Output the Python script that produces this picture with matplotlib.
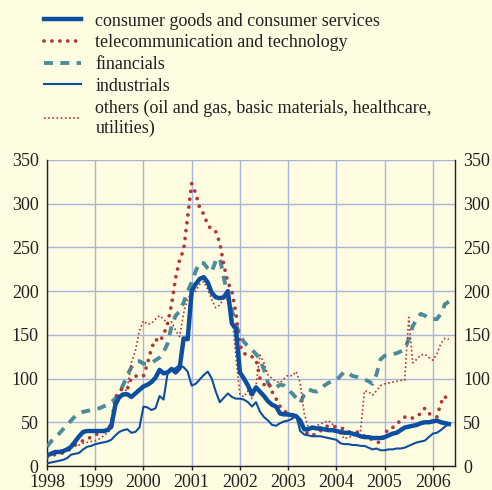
import numpy as np
import matplotlib
matplotlib.use("Agg")
import matplotlib.pyplot as plt

# monthly data, Jan 1998 .. May 2006
start_year = 1998
consumer = [12, 14, 16, 16, 17, 19, 22, 28, 34, 39, 40, 40,
            40, 40, 40, 41, 45, 70, 79, 82, 82, 79, 83, 87,
            91, 93, 96, 101, 110, 106, 107, 111, 107, 112, 146, 145,
            200, 208, 214, 216, 210, 198, 193, 192, 193, 200, 163, 157,
            107, 100, 92, 82, 90, 85, 80, 74, 70, 68, 60, 59,
            59, 58, 57, 52, 42, 42, 44, 43, 43, 42, 41, 41,
            40, 39, 38, 38, 37, 36, 34, 33, 33, 32, 32, 32,
            33, 35, 37, 38, 41, 44, 45, 46, 47, 49, 50, 50,
            51, 52, 50, 49, 48]
telecom = [10, 12, 13, 14, 15, 17, 20, 24, 27, 29, 31, 33,
           36, 37, 39, 42, 48, 78, 86, 89, 88, 101, 103, 102,
           103, 117, 135, 145, 142, 150, 163, 185, 215, 236, 247, 285,
           323, 312, 295, 288, 276, 270, 268, 255, 230, 210, 200, 175,
           138, 129, 126, 125, 122, 100, 93, 96, 85, 77, 68, 63,
           60, 59, 57, 50, 42, 36, 35, 37, 40, 44, 46, 45,
           45, 44, 42, 39, 39, 39, 38, 34, 32, 30, 28, 26,
           36, 43, 44, 48, 52, 56, 54, 55, 57, 60, 66, 62,
           50, 56, 72, 80, 72]
financials = [22, 28, 33, 37, 42, 47, 52, 57, 60, 62, 63, 64,
              65, 66, 68, 70, 73, 77, 84, 93, 104, 113, 119, 120,
              117, 117, 118, 121, 124, 130, 140, 160, 172, 177, 187, 200,
              210, 223, 233, 232, 226, 222, 235, 238, 215, 195, 178, 162,
              150, 142, 137, 133, 128, 122, 110, 95, 88, 90, 93, 92,
              87, 83, 78, 72, 82, 88, 86, 85, 88, 92, 95, 97,
              98, 103, 108, 106, 103, 102, 100, 99, 97, 94, 105, 122,
              126, 127, 128, 129, 131, 133, 145, 160, 168, 174, 172, 169,
              168, 168, 174, 185, 188]
industrials = [3, 4, 5, 6, 7, 9, 13, 14, 15, 19, 22, 23,
               25, 26, 27, 28, 30, 35, 39, 41, 42, 38, 39, 44,
               68, 67, 64, 66, 80, 76, 106, 110, 112, 115, 113, 108,
               92, 94, 99, 104, 108, 100, 85, 73, 78, 83, 79, 77,
               77, 76, 73, 68, 73, 62, 56, 52, 47, 46, 49, 51,
               52, 54, 58, 40, 36, 35, 34, 34, 34, 33, 32, 31,
               30, 26, 25, 25, 24, 24, 23, 23, 21, 19, 20, 18,
               18, 19, 19, 20, 20, 21, 23, 25, 27, 28, 29, 33,
               37, 38, 41, 45, 48]
others = [12, 14, 15, 16, 17, 19, 21, 23, 24, 26, 27, 28,
          29, 31, 34, 38, 42, 70, 76, 81, 90, 118, 132, 155,
          166, 162, 163, 168, 172, 168, 163, 165, 155, 148, 175, 192,
          196, 200, 208, 211, 202, 190, 181, 184, 192, 190, 175, 125,
          82, 79, 86, 77, 92, 127, 118, 104, 100, 97, 95, 100,
          104, 103, 108, 95, 60, 44, 44, 46, 48, 50, 52, 48,
          42, 37, 31, 33, 34, 36, 40, 86, 85, 81, 86, 92,
          94, 95, 96, 97, 98, 98, 170, 118, 122, 127, 128, 124,
          121, 128, 140, 146, 145]

labels = ["consumer goods and consumer services",
          "telecommunication and technology",
          "financials",
          "industrials",
          "others (oil and gas, basic materials, healthcare,\nutilities)"]
year_ticks = list(range(1998, 2007))
y_ticks = [0, 50, 100, 150, 200, 250, 300, 350]

t = start_year + np.arange(len(consumer)) / 12.0

BG = "#FFFDE1"
BLUE = "#0C4FA0"
RED = "#B3353A"
TEAL = "#4B8C9B"
GRID = "#A9B5DF"
TXT = "#231F20"
FS = 13

plt.rcParams['font.family'] = ['Liberation Serif', 'DejaVu Serif']
fig = plt.figure(figsize=(4.92, 4.90), dpi=100, facecolor=BG)
ax = fig.add_axes([47/492, 1 - 466/490, (455-47)/492, (466-160)/490])
ax.set_facecolor(BG)

l1, = ax.plot(t, consumer, color=BLUE, lw=3.2, solid_joinstyle='round', zorder=5)
l2, = ax.plot(t, telecom, color=RED, lw=2.7, linestyle=(0, (0.01, 2.1)),
              dash_capstyle='round', zorder=4)
l3, = ax.plot(t, financials, color=TEAL, lw=2.8, linestyle=(0, (2.3, 1.9)),
              dash_capstyle='butt', zorder=3)
l4, = ax.plot(t, industrials, color=BLUE, lw=1.5, zorder=4)
l5, = ax.plot(t, others, color=RED, lw=1.2, linestyle=(0, (1, 1.5)), zorder=3)

ax.set_xlim(1998, 2006.46)
ax.set_ylim(0, 350)
ax.set_xticks(year_ticks)
ax.set_xticklabels([str(y) for y in year_ticks])
ax.set_yticks(y_ticks)
ax.grid(True, color=GRID, lw=1.0, zorder=0)
ax.set_axisbelow(True)
ax.spines['top'].set_visible(False)
for s in ['left', 'right', 'bottom']:
    ax.spines[s].set_color(TXT)
    ax.spines[s].set_linewidth(1.0)
ax.tick_params(axis='y', length=0, labelleft=True, labelright=True, pad=6,
               labelsize=FS, labelcolor=TXT)
ax.tick_params(axis='x', direction='out', length=3, width=1, color=TXT,
               pad=3, labelsize=FS, labelcolor=TXT)

leg = fig.legend([l1, l2, l3, l4, l5], labels, loc='upper left',
                 bbox_to_anchor=(44/492, 1 - 12.5/490), frameon=False,
                 fontsize=FS, handlelength=2.05, handletextpad=0.8,
                 labelspacing=0.26, borderpad=0, borderaxespad=0)
for txt in leg.get_texts():
    txt.set_color(TXT)

fig.savefig("out.png", dpi=100, facecolor=BG)
